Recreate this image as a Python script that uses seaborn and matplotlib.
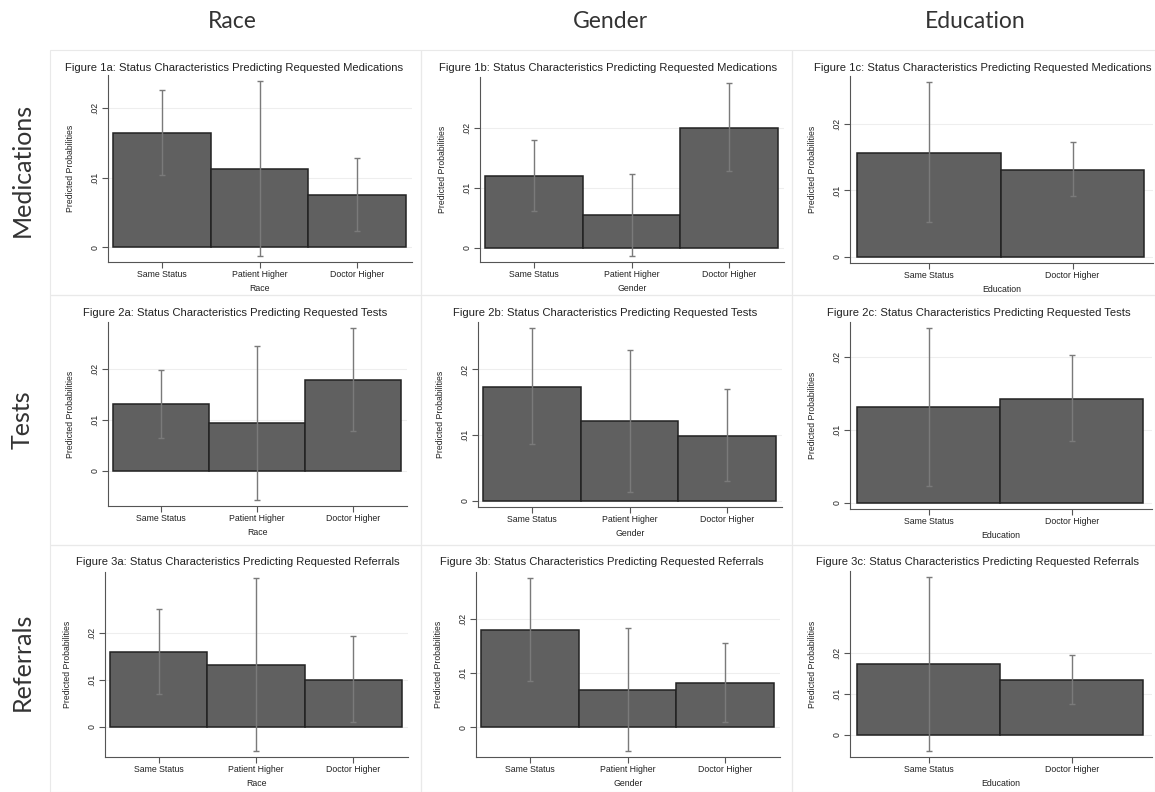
import numpy as np
import seaborn as sns
import matplotlib.pyplot as plt
from matplotlib.patches import Rectangle

sns.set_style("ticks")
plt.rcParams['font.family'] = ['Liberation Sans', 'DejaVu Sans']

W, H = 1155, 792

outcomes = ["Medications", "Tests", "Referrals"]
status_vars = ["Race", "Gender", "Education"]
three_groups = ["Same Status", "Patient Higher", "Doctor Higher"]
two_groups = ["Same Status", "Doctor Higher"]

# predicted probabilities with lower / upper CI ends
med_race = [0.0164, 0.0113, 0.0075]
med_race_lo = [0.0103, -0.0012, 0.0023]
med_race_hi = [0.0226, 0.0238, 0.0128]
med_gender = [0.0120, 0.0054, 0.0201]
med_gender_lo = [0.0061, -0.0014, 0.0128]
med_gender_hi = [0.0180, 0.0123, 0.0276]
med_edu = [0.0157, 0.0131]
med_edu_lo = [0.0052, 0.0091]
med_edu_hi = [0.0263, 0.0173]

test_race = [0.0131, 0.0094, 0.0178]
test_race_lo = [0.0065, -0.0057, 0.0078]
test_race_hi = [0.0199, 0.0246, 0.0281]
test_gender = [0.0174, 0.0121, 0.0099]
test_gender_lo = [0.0086, 0.0014, 0.0030]
test_gender_hi = [0.0263, 0.0230, 0.0170]
test_edu = [0.0131, 0.0142]
test_edu_lo = [0.0023, 0.0085]
test_edu_hi = [0.0239, 0.0202]

ref_race = [0.0158, 0.0131, 0.0100]
ref_race_lo = [0.0069, -0.0052, 0.0010]
ref_race_hi = [0.0250, 0.0316, 0.0193]
ref_gender = [0.0179, 0.0068, 0.0081]
ref_gender_lo = [0.0085, -0.0044, 0.0009]
ref_gender_hi = [0.0276, 0.0183, 0.0155]
ref_edu = [0.0173, 0.0135]
ref_edu_lo = [-0.0039, 0.0076]
ref_edu_hi = [0.0387, 0.0197]

yticks = [0, 0.01, 0.02]
ytick_labels = ["0", ".01", ".02"]

data = [
    [(three_groups, med_race, med_race_lo, med_race_hi),
     (three_groups, med_gender, med_gender_lo, med_gender_hi),
     (two_groups, med_edu, med_edu_lo, med_edu_hi)],
    [(three_groups, test_race, test_race_lo, test_race_hi),
     (three_groups, test_gender, test_gender_lo, test_gender_hi),
     (two_groups, test_edu, test_edu_lo, test_edu_hi)],
    [(three_groups, ref_race, ref_race_lo, ref_race_hi),
     (three_groups, ref_gender, ref_gender_lo, ref_gender_hi),
     (two_groups, ref_edu, ref_edu_lo, ref_edu_hi)],
]

# layout in pixels of the composite image
axes_px = [
    [(108, 75, 412, 262), (480, 77, 784, 262), (850, 76, 1153, 263)],
    [(108, 322, 407, 506), (478, 322, 782, 507), (850, 322, 1152, 509)],
    [(105, 572, 408, 757), (476, 572, 780, 757), (850, 571, 1152, 757)],
]
title_px = [
    [(234, 68), (608, 68), (983, 68)],
    [(235, 313), (605, 313), (979, 313)],
    [(238, 562), (602, 562), (977, 562)],
]
col_edges = [(50, 421), (421, 792), (792, 1155)]
row_edges = [(50, 295), (295, 545), (545, 792)]
header_x = [232, 610, 975]
rowlabel_y = [170, 420, 662]

fig = plt.figure(figsize=(W / 100, H / 100), dpi=100)
fig.patch.set_facecolor('white')

for (x0, x1) in col_edges:
    for (y0, y1) in row_edges:
        fig.add_artist(Rectangle((x0 / W, 1 - y1 / H), (x1 - x0) / W, (y1 - y0) / H,
                                 transform=fig.transFigure, fill=False,
                                 edgecolor='#e9e9e9', linewidth=0.8))

for j, name in enumerate(status_vars):
    fig.text(header_x[j] / W, 1 - 22 / H, name, ha='center', va='center',
             fontsize=16.5, family=['Lato', 'DejaVu Sans'], color='#333333')
for i, name in enumerate(outcomes):
    fig.text(22 / W, 1 - rowlabel_y[i] / H, name, ha='center', va='center',
             rotation=90, fontsize=18, family=['Lato', 'DejaVu Sans'], color='#333333')

for i in range(3):
    for j in range(3):
        groups, est, lo, hi = data[i][j]
        l, t, r, b = axes_px[i][j]
        ax = fig.add_axes([l / W, 1 - b / H, (r - l) / W, (b - t) / H])
        sns.barplot(x=groups, y=est, ax=ax, color='#606060', saturation=1,
                    width=1, edgecolor='#222222', linewidth=1.1, errorbar=None)
        pos = np.arange(len(groups))
        est_a, lo_a, hi_a = np.array(est), np.array(lo), np.array(hi)
        ax.errorbar(pos, est_a, yerr=[est_a - lo_a, hi_a - est_a], fmt='none',
                    ecolor='#7a7a7a', elinewidth=1, capsize=2, capthick=1, zorder=5)
        ymin = min(0, lo_a.min())
        ymax = hi_a.max()
        pad = 0.035 * (ymax - ymin)
        ax.set_ylim(ymin - pad, ymax + pad)
        ax.set_xlim(-0.55, len(groups) - 1 + 0.56)
        ax.set_yticks(yticks)
        ax.set_yticklabels(ytick_labels, rotation=90, va='center')
        ax.yaxis.grid(True, color='#eeeeee', linewidth=0.8)
        ax.set_axisbelow(True)
        ax.tick_params(axis='both', length=4, width=0.8, color='#555555',
                       labelsize=6.3, pad=2, labelcolor='#222222')
        sns.despine(ax=ax)
        for side in ['left', 'bottom']:
            ax.spines[side].set_color('#555555')
            ax.spines[side].set_linewidth(0.8)
        ax.set_ylabel("Predicted Probabilities", fontsize=6.2, color='#222222')
        ax.yaxis.set_label_coords(-33 / (r - l), 0.5)
        ax.set_xlabel(status_vars[j], fontsize=6.3, color='#222222')
        ax.xaxis.set_label_coords(0.5, -22 / (b - t))
        tx, ty = title_px[i][j]
        fig.text(tx / W, 1 - ty / H,
                 f"Figure {i + 1}{'abc'[j]}: Status Characteristics Predicting Requested {outcomes[i]}",
                 ha='center', va='center', fontsize=8.1, color='#222222')

fig.savefig("out.png", dpi=100, facecolor='white')
